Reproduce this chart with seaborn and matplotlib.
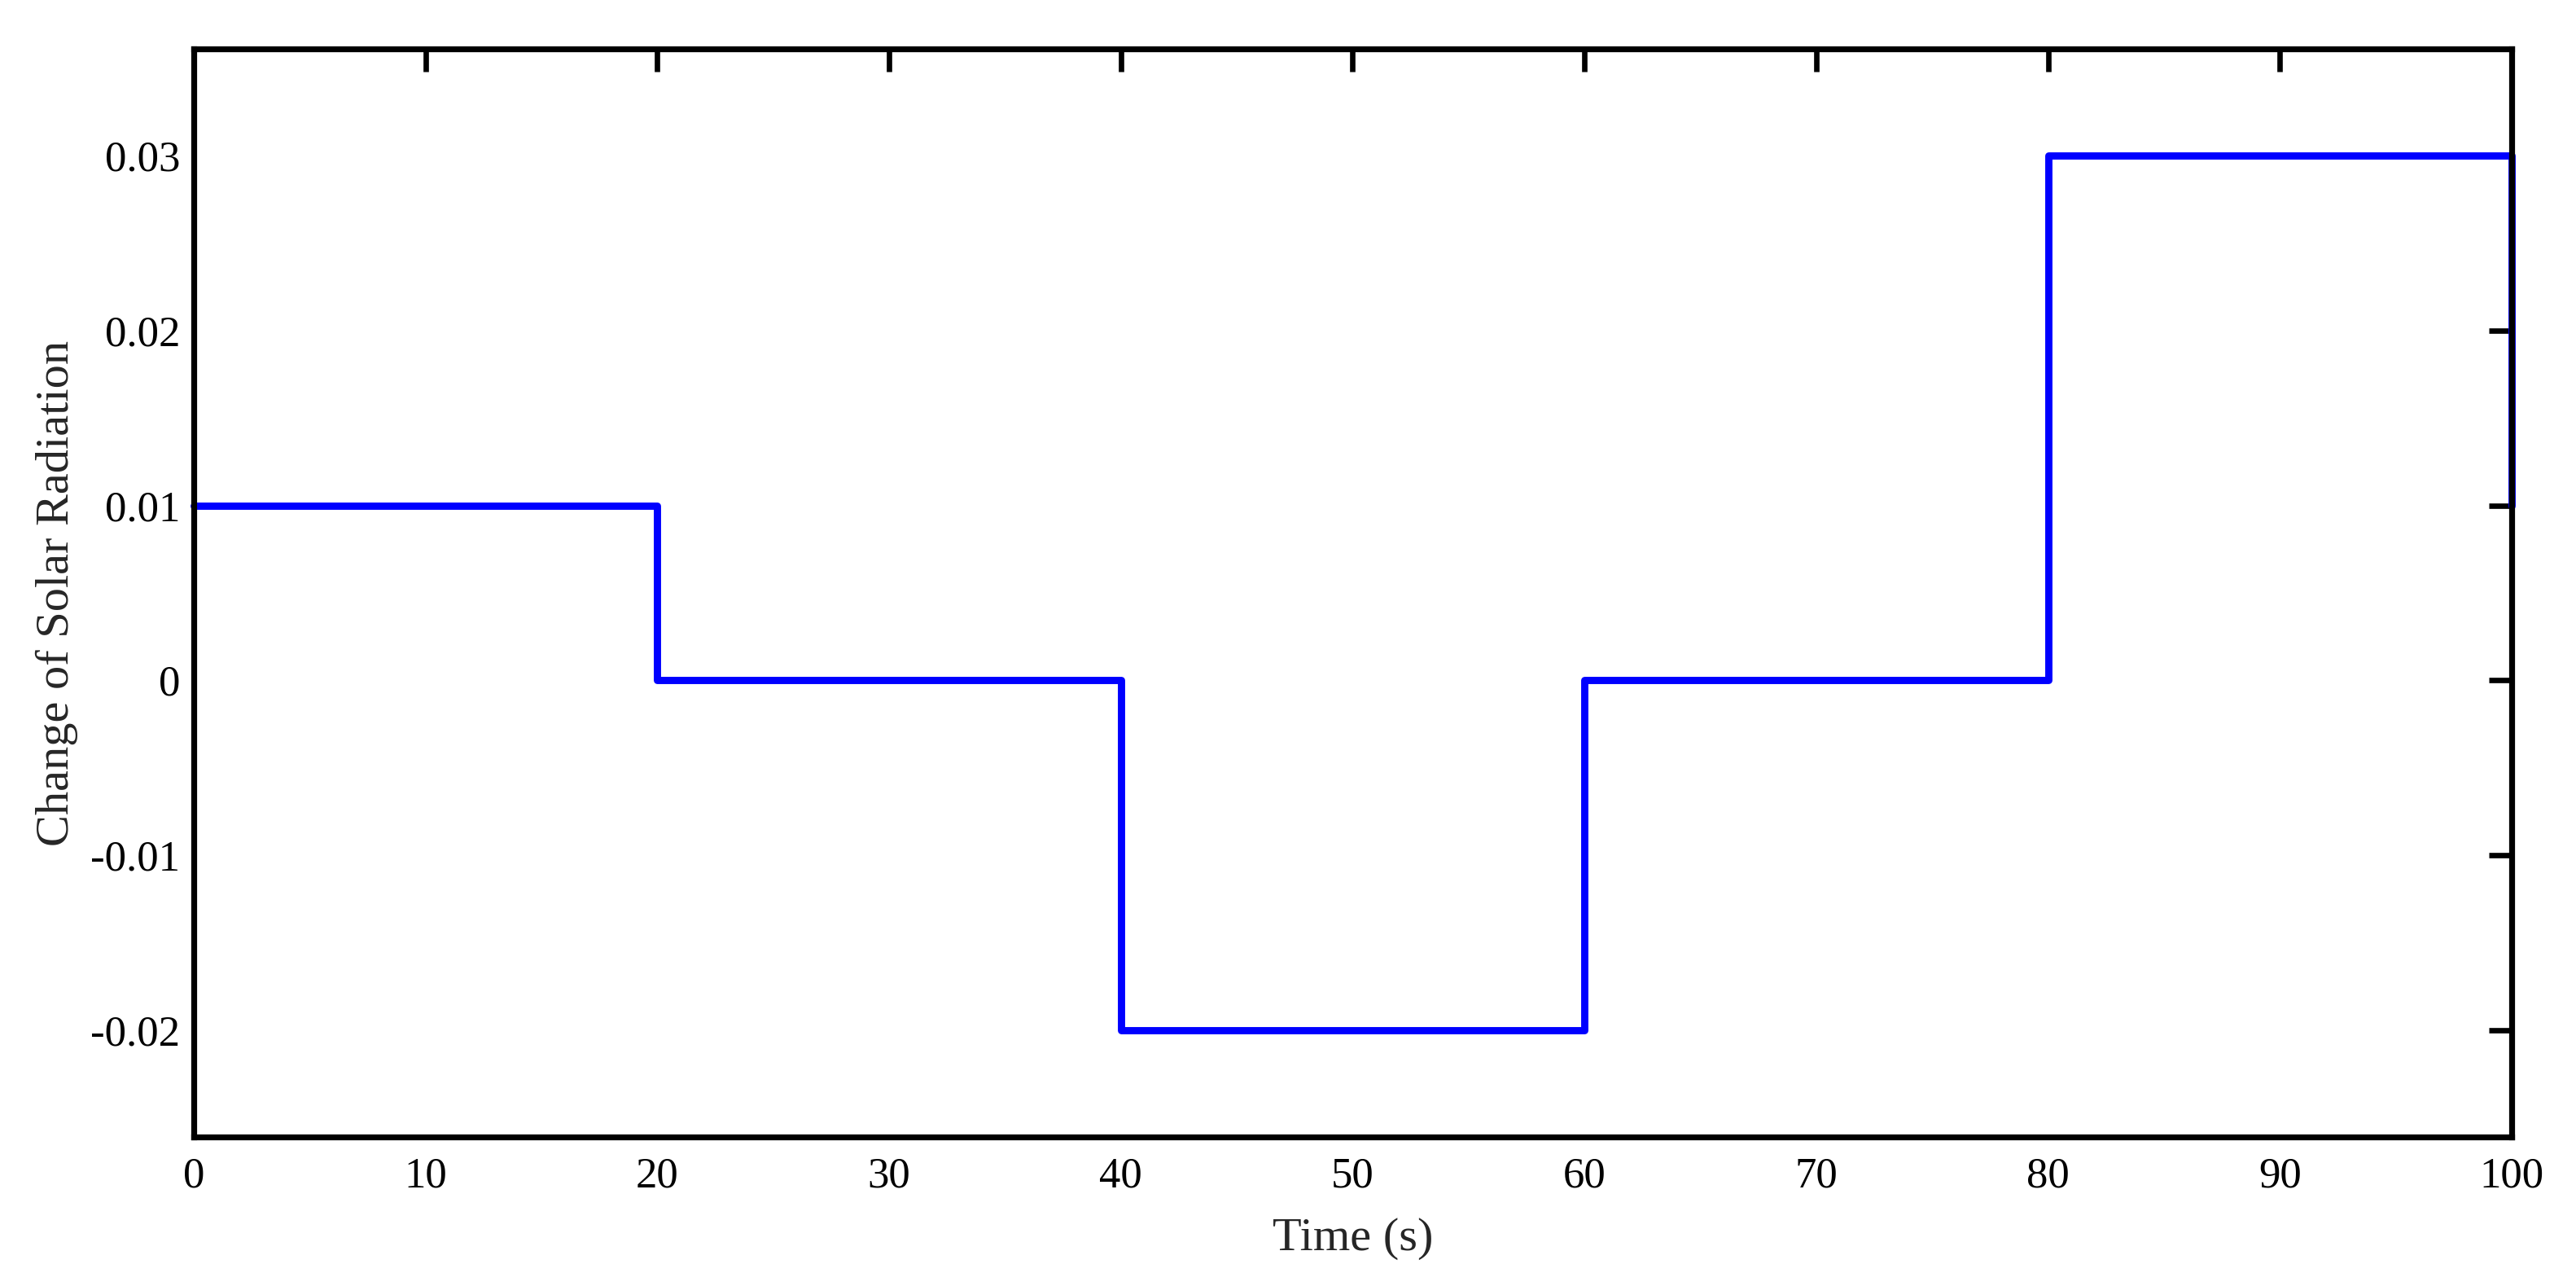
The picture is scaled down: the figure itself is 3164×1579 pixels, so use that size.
import numpy as np
import pandas as pd
import matplotlib
matplotlib.use("Agg")
import matplotlib.pyplot as plt
import seaborn as sns

# step change of solar radiation (value held from each time until the next)
step_times = [0, 20, 40, 60, 80, 100]
step_levels = [0.01, 0.0, -0.02, 0.0, 0.03, 0.01]
x_ticks = [0, 10, 20, 30, 40, 50, 60, 70, 80, 90, 100]
y_ticks = [-0.02, -0.01, 0.0, 0.01, 0.02, 0.03]

sns.set_style("white")
plt.rcParams['font.family'] = ['Liberation Serif', 'DejaVu Serif']
plt.rcParams['axes.unicode_minus'] = False

df = pd.DataFrame({'Time': step_times, 'Change': step_levels})

fig = plt.figure(figsize=(15.82, 7.895), dpi=200)
ax = fig.add_axes([0.0752, 0.116, 0.8998, 0.8457])

sns.lineplot(data=df, x='Time', y='Change', ax=ax, color='#0000ff',
             linewidth=3.2, drawstyle='steps-post', clip_on=False)

ax.set_xlim(0, 100)
ax.set_ylim(-0.0261, 0.0361)
ax.set_xticks(x_ticks)
ax.set_yticks(y_ticks)
ax.yaxis.set_major_formatter(matplotlib.ticker.FuncFormatter(lambda v, p: f'{v:g}'))

ax.tick_params(direction='in', length=10, width=2.4, labelsize=19,
               top=True, right=True, colors='black')
ax.tick_params(axis='x', pad=9)
ax.tick_params(axis='y', pad=6)
for s in ax.spines.values():
    s.set_linewidth(2.6)
    s.set_color('black')

ax.set_xlabel('Time (s)', fontsize=21)
ax.set_ylabel('Change of Solar Radiation', fontsize=21)
ax.xaxis.set_label_coords(0.5, -0.074)
ax.yaxis.set_label_coords(-0.050, 0.5)

plt.savefig('out.png', dpi=200)
